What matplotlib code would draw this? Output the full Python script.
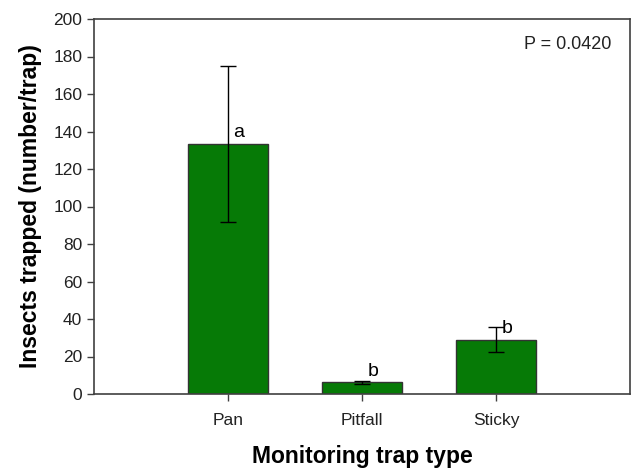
import matplotlib
matplotlib.use("Agg")
import matplotlib.pyplot as plt

categories = ["Pan", "Pitfall", "Sticky"]
means = [133.2, 6.2, 29.0]
errors = [41.6, 0.9, 6.7]
letters = ["a", "b", "b"]
p_text = "P = 0.0420"

plt.rcParams['font.family'] = ['Liberation Sans', 'DejaVu Sans']

fig = plt.figure(figsize=(6.34, 4.68), dpi=100)
ax = fig.add_axes([94/634, 1-394/468, 536/634, 375/468])

x = list(range(len(categories)))
ax.bar(x, means, width=0.6, color="#067a06", edgecolor="#333333", linewidth=1.0, zorder=2)
ax.errorbar(x, means, yerr=errors, fmt="none", ecolor="black", elinewidth=1.0,
            capsize=6, capthick=1.0, zorder=3)
for xi, m, e, l in zip(x, means, errors, letters):
    ax.text(xi + 0.04, m + 1.5, l, fontsize=14, ha="left", va="bottom", color="black", zorder=4)

ax.set_xlim(-1, 3)
ax.set_ylim(0, 200)
ax.set_yticks(range(0, 201, 20))
ax.set_xticks(x)
ax.set_xticklabels(categories)
ax.tick_params(axis="both", labelsize=12.5, direction="out", length=5, width=1.0, color="#404040",
               labelcolor="#222222")
ax.tick_params(axis="x", pad=9)
for s in ax.spines.values():
    s.set_color("#404040")
    s.set_linewidth(1.2)

ax.text(0.965, 0.955, p_text, transform=ax.transAxes, ha="right", va="top", fontsize=13, color="#222222")

ax.set_xlabel("Monitoring trap type", fontsize=16.5, fontweight="bold", labelpad=12)
ax.set_ylabel("Insects trapped (number/trap)", fontsize=16.5, fontweight="bold", labelpad=8)

fig.savefig("out.png", dpi=100)
